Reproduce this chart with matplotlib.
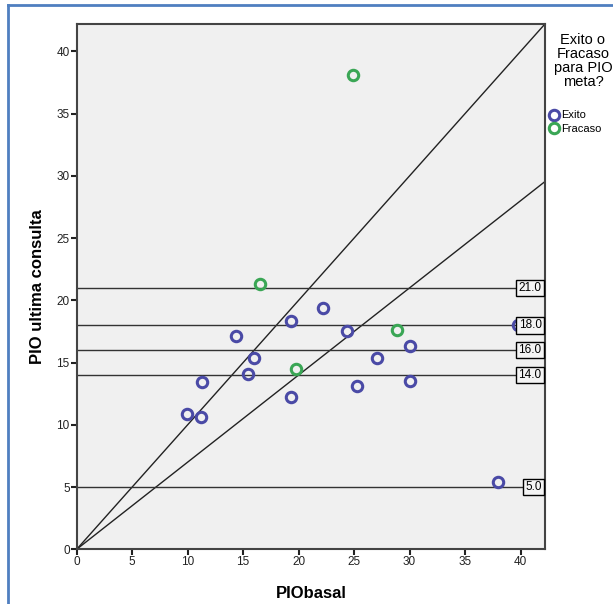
import numpy as np
from matplotlib import pyplot as plt
from matplotlib.lines import Line2D

plt.rcParams['font.family'] = ['Liberation Sans', 'DejaVu Sans']

# data
exito_basal = [9.9, 11.2, 11.3, 14.4, 15.4, 16.0, 19.3, 19.3, 22.2, 24.4,
               25.3, 27.1, 30.0, 30.0, 39.8, 38.0]
exito_ultima = [10.9, 10.6, 13.4, 17.1, 14.1, 15.4, 18.3, 12.2, 19.4, 17.5,
                13.1, 15.4, 16.3, 13.5, 18.0, 5.4]
fracaso_basal = [24.9, 16.5, 19.8, 28.9]
fracaso_ultima = [38.1, 21.3, 14.5, 17.6]
ref_levels = [21.0, 18.0, 16.0, 14.0, 5.0]
slopes = [1.0, 0.7]

blue = '#4a4aa6'
green = '#3aa655'

fig = plt.figure(figsize=(6.13, 6.04), dpi=100)
ax = fig.add_axes([0.1251, 0.0906, 0.7639, 0.8697])
ax.set_facecolor('#f0f0f0')

xmax = 42.2
ymax = 42.2
for s in slopes:
  ax.plot([0, xmax], [0, s * xmax], color='#222222', lw=1.0, zorder=2)
for lv in ref_levels:
  ax.axhline(lv, color='#333333', lw=1.0, zorder=2)

ax.plot(exito_basal, exito_ultima, 'o', ms=7.5, mfc='none', mec=blue, mew=2.2,
        zorder=3, label='Exito')
ax.plot(fracaso_basal, fracaso_ultima, 'o', ms=7.5, mfc='none', mec=green, mew=2.2,
        zorder=3, label='Fracaso')

for lv in ref_levels:
  ax.text(41.9, lv, f'{lv:.1f}', ha='right', va='center', fontsize=8.5, zorder=4,
          bbox=dict(boxstyle='square,pad=0.2', fc='#f4f4f4', ec='black', lw=1.0))

ax.set_xlim(0, xmax)
ax.set_ylim(0, ymax)
ax.set_xticks(np.arange(0, 41, 5))
ax.set_yticks(np.arange(0, 41, 5))
ax.tick_params(direction='out', length=4, width=1.5, labelsize=8.5, colors='#222222',
               pad=1)
for sp in ax.spines.values():
  sp.set_linewidth(1.5)
  sp.set_color('#444444')

ax.set_xlabel('PIObasal', fontsize=12, fontweight='bold', labelpad=13)
ax.set_ylabel('PIO ultima consulta', fontsize=12, fontweight='bold', labelpad=8)

fig.text(0.951, 0.946, 'Exito o\nFracaso\npara PIO\nmeta?', ha='center', va='top',
         fontsize=10.5, linespacing=1.0)
handles = [Line2D([], [], marker='o', ls='', ms=7.5, mfc='none', mec=blue, mew=2.2),
           Line2D([], [], marker='o', ls='', ms=7.5, mfc='none', mec=green, mew=2.2)]
fig.legend(handles, ['Exito', 'Fracaso'], loc='upper left',
           bbox_to_anchor=(0.878, 0.83), frameon=False, fontsize=8,
           handletextpad=-0.1, labelspacing=0.3, handlelength=1.5, borderpad=0.2)

# blue frame around the output
fig.add_artist(Line2D([0.013, 0.013], [0, 0.992], color='#4f7fc0', lw=2))
fig.add_artist(Line2D([0.013, 1.0], [0.992, 0.992], color='#4f7fc0', lw=2))

fig.savefig('out.png', dpi=100)
